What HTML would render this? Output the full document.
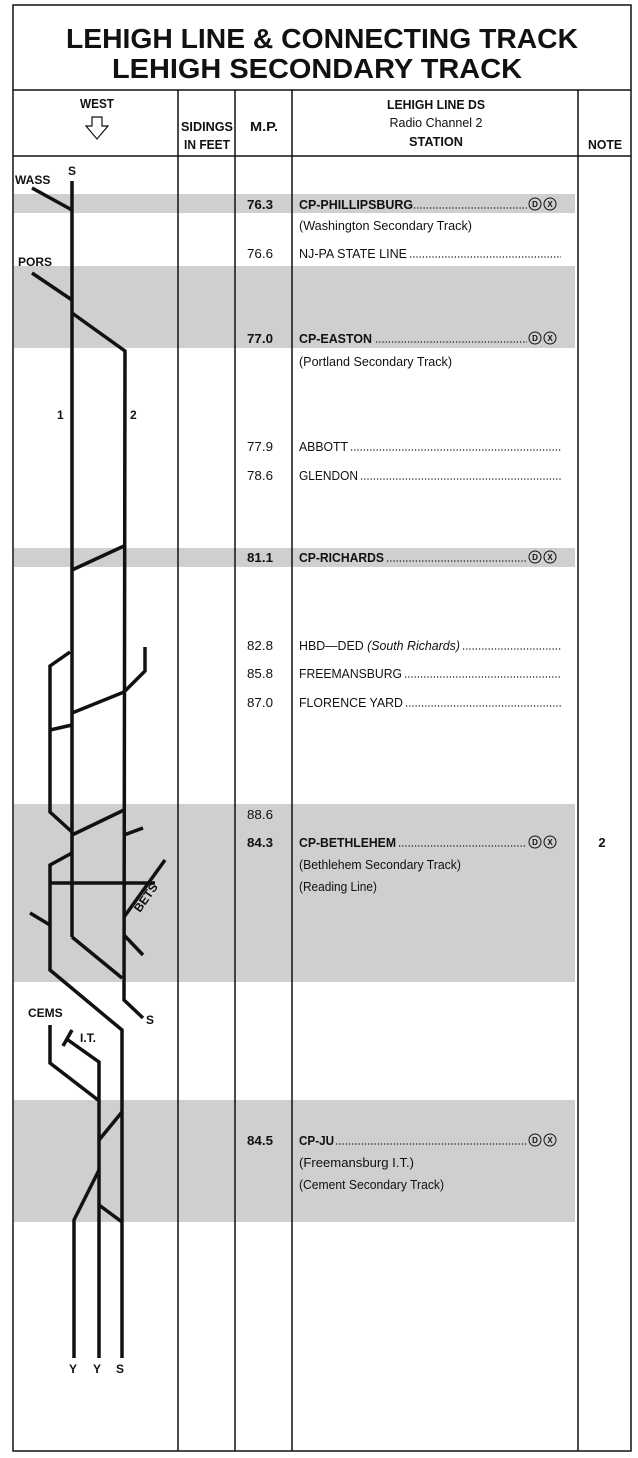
<!DOCTYPE html>
<html><head><meta charset="utf-8"><style>
html,body{margin:0;padding:0;background:#fff;}
svg{display:block;}
text{font-family:"Liberation Sans",Arial,sans-serif;fill:#111;}
.b{font-weight:bold;}
.t{font-family:"Liberation Sans",Arial,sans-serif;font-weight:bold;}
</style></head><body>
<svg width="638" height="1458" viewBox="0 0 638 1458" xmlns="http://www.w3.org/2000/svg">
<g fill="#cfcfcf">
<rect x="14" y="194" width="561" height="19"/>
<rect x="14" y="266" width="561" height="82"/>
<rect x="14" y="548" width="561" height="19"/>
<rect x="14" y="804" width="561" height="178"/>
<rect x="14" y="1100" width="561" height="122"/>
</g>
<g stroke="#111" stroke-width="1.5" fill="none">
<rect x="13" y="5" width="618" height="1446"/>
<line x1="13" y1="90" x2="631" y2="90"/>
<line x1="13" y1="156" x2="631" y2="156"/>
<line x1="178" y1="90" x2="178" y2="1451"/>
<line x1="235" y1="90" x2="235" y2="1451"/>
<line x1="292" y1="90" x2="292" y2="1451"/>
<line x1="578" y1="90" x2="578" y2="1451"/>
</g>
<text class="t" x="66" y="48" font-size="28" textLength="512" lengthAdjust="spacingAndGlyphs">LEHIGH LINE &amp; CONNECTING TRACK</text>
<text class="t" x="112" y="78" font-size="28" textLength="410" lengthAdjust="spacingAndGlyphs">LEHIGH SECONDARY TRACK</text>
<text class="b" x="97" y="108" font-size="13" text-anchor="middle" textLength="34" lengthAdjust="spacingAndGlyphs">WEST</text>
<path d="M92 117 h10 v9 h6 l-11 13 l-11 -13 h6 z" fill="#fff" stroke="#111" stroke-width="1.2"/>
<text class="b" x="207" y="131" font-size="13" text-anchor="middle" textLength="52" lengthAdjust="spacingAndGlyphs">SIDINGS</text>
<text class="b" x="207" y="149" font-size="13" text-anchor="middle" textLength="46" lengthAdjust="spacingAndGlyphs">IN FEET</text>
<text class="b" x="264" y="131" font-size="13" text-anchor="middle" textLength="28" lengthAdjust="spacingAndGlyphs">M.P.</text>
<text class="b" x="436" y="109" font-size="13" text-anchor="middle" textLength="98" lengthAdjust="spacingAndGlyphs">LEHIGH LINE DS</text>
<text x="436" y="127" font-size="13" text-anchor="middle" textLength="93" lengthAdjust="spacingAndGlyphs">Radio Channel 2</text>
<text class="b" x="436" y="146" font-size="13" text-anchor="middle" textLength="54" lengthAdjust="spacingAndGlyphs">STATION</text>
<text class="b" x="605" y="149" font-size="13" text-anchor="middle" textLength="34" lengthAdjust="spacingAndGlyphs">NOTE</text>
<g stroke="#111" stroke-width="3.5" fill="none" stroke-linecap="butt" stroke-linejoin="miter">
<line x1="72" y1="181" x2="72" y2="937"/>
<path d="M72 937 L122 978"/>
<line x1="32" y1="188" x2="72" y2="210"/>
<line x1="32" y1="273" x2="72" y2="300"/>
<path d="M72 313 L125 351 L124 1000 L143 1018"/>
<line x1="72" y1="570" x2="124" y2="546"/>
<path d="M70 652 L50 666 L50 812 L72 832"/>
<line x1="50" y1="730" x2="72" y2="725"/>
<path d="M72 713 L124 692 L145 671 L145 647"/>
<line x1="72" y1="835" x2="124" y2="810"/>
<line x1="124" y1="835" x2="143" y2="828"/>
<path d="M72 853 L50 865 L50 970 L122 1030 L122 1358"/>
<line x1="50" y1="883" x2="155" y2="883"/>
<line x1="124" y1="917" x2="165" y2="860"/>
<line x1="30" y1="913" x2="50" y2="925"/>
<line x1="124" y1="935" x2="143" y2="955"/>
<path d="M50 1025 L50 1063 L98 1100"/>
<path d="M68 1040 L99 1062 L99 1358"/>
<line x1="63" y1="1046" x2="72" y2="1030"/>
<line x1="99" y1="1140" x2="122" y2="1112"/>
<path d="M99 1170 L74 1220 L74 1358"/>
<line x1="99" y1="1205" x2="122" y2="1222"/>
</g>
<g font-size="12">
<text class="b" x="15" y="184">WASS</text>
<text class="b" x="68" y="175">S</text>
<text class="b" x="18" y="266">PORS</text>
<text class="b" x="57" y="419">1</text>
<text class="b" x="130" y="419">2</text>
<text class="b" x="146" y="1024">S</text>
<text class="b" x="28" y="1017">CEMS</text>
<text class="b" x="80" y="1042">I.T.</text>
<text class="b" x="69" y="1373">Y</text>
<text class="b" x="93" y="1373">Y</text>
<text class="b" x="116" y="1373">S</text>
<text class="b" x="140" y="913" transform="rotate(-55 140 913)">BETS</text>
</g>
<g font-size="13" text-anchor="end">
<text class="b" x="273" y="209" textLength="26" lengthAdjust="spacingAndGlyphs">76.3</text>
<text x="273" y="258" textLength="26" lengthAdjust="spacingAndGlyphs">76.6</text>
<text class="b" x="273" y="343" textLength="26" lengthAdjust="spacingAndGlyphs">77.0</text>
<text x="273" y="451" textLength="26" lengthAdjust="spacingAndGlyphs">77.9</text>
<text x="273" y="480" textLength="26" lengthAdjust="spacingAndGlyphs">78.6</text>
<text class="b" x="273" y="562" textLength="26" lengthAdjust="spacingAndGlyphs">81.1</text>
<text x="273" y="650" textLength="26" lengthAdjust="spacingAndGlyphs">82.8</text>
<text x="273" y="678" textLength="26" lengthAdjust="spacingAndGlyphs">85.8</text>
<text x="273" y="707" textLength="26" lengthAdjust="spacingAndGlyphs">87.0</text>
<text x="273" y="819" textLength="26" lengthAdjust="spacingAndGlyphs">88.6</text>
<text class="b" x="273" y="847" textLength="26" lengthAdjust="spacingAndGlyphs">84.3</text>
<text class="b" x="273" y="1145" textLength="26" lengthAdjust="spacingAndGlyphs">84.5</text>
</g>
<g font-size="13">
<text class="b" x="299" y="209" textLength="114" lengthAdjust="spacingAndGlyphs">CP-PHILLIPSBURG</text>
<text x="299" y="230" textLength="173" lengthAdjust="spacingAndGlyphs">(Washington Secondary Track)</text>
<text x="299" y="258" textLength="108" lengthAdjust="spacingAndGlyphs">NJ-PA STATE LINE</text>
<text class="b" x="299" y="343" textLength="73" lengthAdjust="spacingAndGlyphs">CP-EASTON</text>
<text x="299" y="366" textLength="153" lengthAdjust="spacingAndGlyphs">(Portland Secondary Track)</text>
<text x="299" y="451" textLength="49" lengthAdjust="spacingAndGlyphs">ABBOTT</text>
<text x="299" y="480" textLength="59" lengthAdjust="spacingAndGlyphs">GLENDON</text>
<text class="b" x="299" y="562" textLength="85" lengthAdjust="spacingAndGlyphs">CP-RICHARDS</text>
<text x="299" y="650" textLength="161" lengthAdjust="spacingAndGlyphs">HBD—DED <tspan font-style="italic">(South Richards)</tspan></text>
<text x="299" y="678" textLength="103" lengthAdjust="spacingAndGlyphs">FREEMANSBURG</text>
<text x="299" y="707" textLength="104" lengthAdjust="spacingAndGlyphs">FLORENCE YARD</text>
<text class="b" x="299" y="847" textLength="97" lengthAdjust="spacingAndGlyphs">CP-BETHLEHEM</text>
<text x="299" y="869" textLength="162" lengthAdjust="spacingAndGlyphs">(Bethlehem Secondary Track)</text>
<text x="299" y="891" textLength="78" lengthAdjust="spacingAndGlyphs">(Reading Line)</text>
<text class="b" x="299" y="1145" textLength="35" lengthAdjust="spacingAndGlyphs">CP-JU</text>
<text x="299" y="1167" textLength="115" lengthAdjust="spacingAndGlyphs">(Freemansburg I.T.)</text>
<text x="299" y="1189" textLength="145" lengthAdjust="spacingAndGlyphs">(Cement Secondary Track)</text>
<text class="b" x="602" y="847" text-anchor="middle">2</text>
</g>
<g stroke="#111" stroke-width="1.2" stroke-dasharray="1.2 2">
<line x1="414" y1="208" x2="527" y2="208"/>
<line x1="410" y1="257" x2="561" y2="257"/>
<line x1="376" y1="342" x2="527" y2="342"/>
<line x1="351" y1="450" x2="561" y2="450"/>
<line x1="361" y1="479" x2="561" y2="479"/>
<line x1="387" y1="561" x2="527" y2="561"/>
<line x1="463" y1="649" x2="561" y2="649"/>
<line x1="405" y1="677" x2="561" y2="677"/>
<line x1="406" y1="706" x2="561" y2="706"/>
<line x1="399" y1="846" x2="527" y2="846"/>
<line x1="336" y1="1144" x2="527" y2="1144"/>
</g>
<g fill="none" stroke="#111" stroke-width="1">
<circle cx="535" cy="204" r="6"/><circle cx="550" cy="204" r="6"/>
<circle cx="535" cy="338" r="6"/><circle cx="550" cy="338" r="6"/>
<circle cx="535" cy="557" r="6"/><circle cx="550" cy="557" r="6"/>
<circle cx="535" cy="842" r="6"/><circle cx="550" cy="842" r="6"/>
<circle cx="535" cy="1140" r="6"/><circle cx="550" cy="1140" r="6"/>
</g>
<g font-size="8" text-anchor="middle">
<text class="b" x="535" y="207">D</text><text class="b" x="550" y="207">X</text>
<text class="b" x="535" y="341">D</text><text class="b" x="550" y="341">X</text>
<text class="b" x="535" y="560">D</text><text class="b" x="550" y="560">X</text>
<text class="b" x="535" y="845">D</text><text class="b" x="550" y="845">X</text>
<text class="b" x="535" y="1143">D</text><text class="b" x="550" y="1143">X</text>
</g>
</svg>
</body></html>
